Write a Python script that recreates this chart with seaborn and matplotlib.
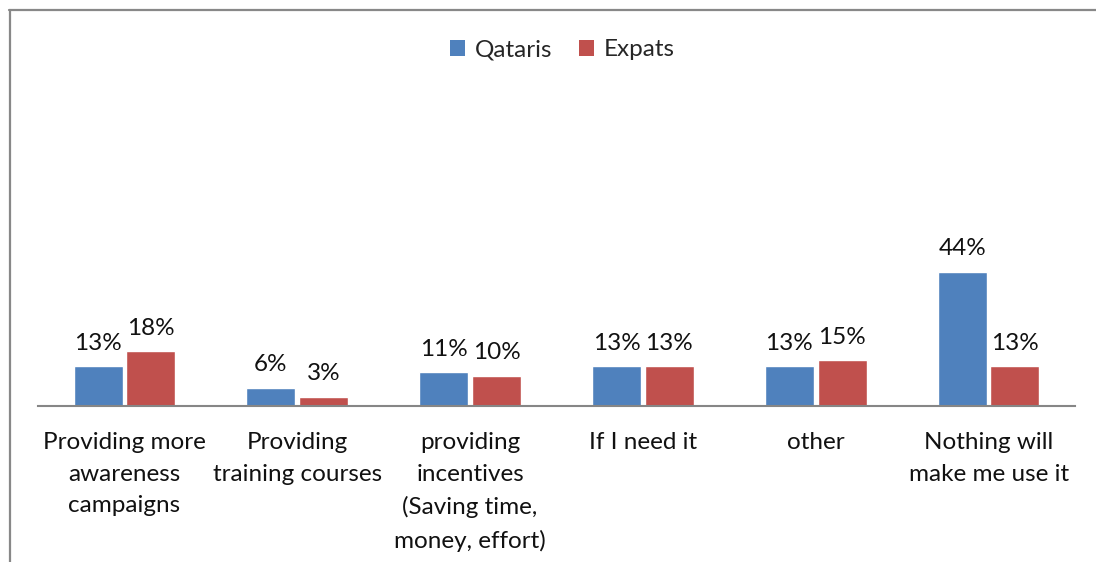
import matplotlib
matplotlib.use("Agg")
import matplotlib.pyplot as plt
from matplotlib.lines import Line2D
from matplotlib.patches import Patch
import seaborn as sns
import pandas as pd

categories = [
    "Providing more\nawareness\ncampaigns",
    "Providing\ntraining courses",
    "providing\nincentives\n(Saving time,\nmoney, effort)",
    "If I need it",
    "other",
    "Nothing will\nmake me use it",
]
groups = ["Qataris", "Expats"]
qataris = [13, 6, 11, 13, 13, 44]
expats = [18, 3, 10, 13, 15, 13]
colors = ["#4F81BD", "#C0504D"]

df = pd.DataFrame({
    "category": categories * 2,
    "group": [groups[0]] * len(categories) + [groups[1]] * len(categories),
    "value": qataris + expats,
})

sns.set_theme(style="white")
plt.rcParams["font.family"] = ["Lato", "DejaVu Sans"]

W, H = 1096, 562
fig = plt.figure(figsize=(W / 100, H / 100), dpi=100)
ax = fig.add_axes([38 / W, (H - 406) / H, (1075 - 38) / W, (406 - 101) / H])

sns.barplot(data=df, x="category", y="value", hue="group", order=categories,
            hue_order=groups, palette=colors, width=0.61, gap=0.07,
            saturation=1, ax=ax, legend=False)

for container in ax.containers:
    ax.bar_label(container, labels=[f"{v:.0f}%" for v in container.datavalues],
                 padding=9, fontsize=17.5, color="#111111")

ax.set_ylim(0, 100)
ax.set_xlim(-0.5, len(categories) - 0.5)
ax.set_xlabel("")
ax.set_ylabel("")
ax.set_yticks([])
for s in ["left", "right", "top"]:
    ax.spines[s].set_visible(False)
ax.spines["bottom"].set_color("#868686")
ax.spines["bottom"].set_linewidth(1.5)
ax.tick_params(axis="x", length=0, pad=19, labelsize=17.5, colors="#111111")
for lbl in ax.get_xticklabels():
    lbl.set_linespacing(1.62)

handles = [Patch(facecolor=c, edgecolor="none") for c in colors]
fig.legend(handles, groups, loc="center", bbox_to_anchor=(562 / W, 1 - 50 / H),
           ncol=2, frameon=False, fontsize=17.5, handlelength=0.62, handleheight=0.62,
           handletextpad=0.4, columnspacing=1.1)

# chart area border
fig.add_artist(Line2D([9.5 / W, 9.5 / W], [0, 1 - 10 / H], transform=fig.transFigure,
                      color="#888888", linewidth=1.6))
fig.add_artist(Line2D([9 / W, 1], [1 - 10 / H, 1 - 10 / H], transform=fig.transFigure,
                      color="#888888", linewidth=1.6))

fig.savefig("out.png", dpi=100, facecolor="white")
